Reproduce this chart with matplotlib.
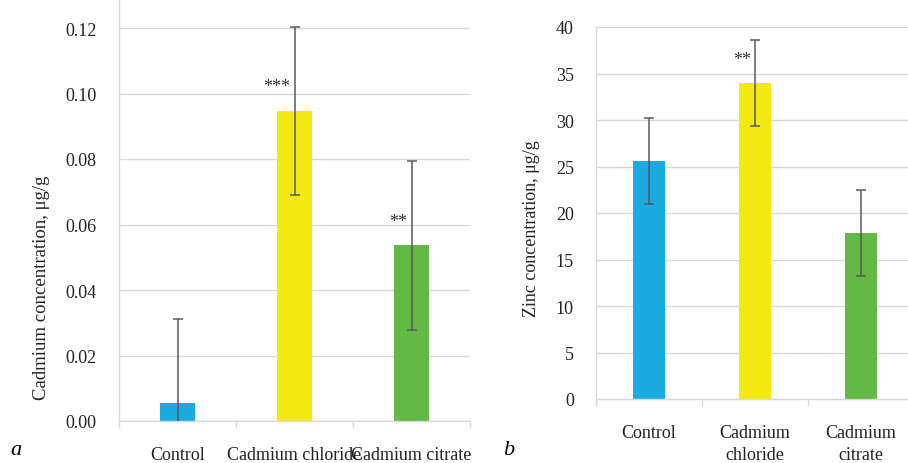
import numpy as np
import matplotlib
matplotlib.use("Agg")
import matplotlib.pyplot as plt

plt.rcParams['font.family'] = ['Liberation Serif', 'DejaVu Serif']

# podatki
groups_a = ["Control", "Cadmium chloride", "Cadmium citrate"]
cd_values = [0.0055, 0.0947, 0.0537]
cd_errors = [0.0256, 0.0256, 0.0258]
cd_marks = ["", "***", "**"]
cd_mark_y = [0, 0.102, 0.061]

groups_b = ["Control", "Cadmium\nchloride", "Cadmium\ncitrate"]
zn_values = [25.6, 34.0, 17.85]
zn_errors = [4.6, 4.6, 4.6]
zn_marks = ["", "**", ""]
zn_mark_y = [0, 36.5, 0]

colors = ["#1AABE0", "#F2E911", "#62B946"]
grid_col = "#D9D9D9"
err_col = "#595959"

W, H = 908, 464
fig = plt.figure(figsize=(W / 100, H / 100), dpi=100)


def px_axes(x0, x1, y_bottom, y_top):
    # pikselne koordinate -> deli slike
    return fig.add_axes([x0 / W, (H - y_bottom) / H, (x1 - x0) / W, (y_bottom - y_top) / H])


def draw_panel(ax, labels, values, errors, marks, mark_y, ymax, yticks, fmt):
    x = np.arange(len(values))
    ax.bar(x, values, width=0.3, color=colors, zorder=2)
    ax.errorbar(x, values, yerr=errors, fmt='none', ecolor=err_col,
                elinewidth=1.1, capsize=3.5, capthick=1.1, zorder=3)
    for xi, my, m in zip(x, mark_y, marks):
        if m:
            ax.annotate(m, (xi, my), xytext=(-3, 0), textcoords='offset points',
                        ha='right', va='center', fontsize=13, color='#333333')
    ax.set_xlim(-0.5, len(values) - 0.5)
    ax.set_ylim(0, ymax)
    ax.set_yticks(yticks)
    ax.set_yticklabels([fmt.format(t) for t in yticks])
    ax.yaxis.grid(True, color=grid_col, linewidth=1.0, zorder=0)
    ax.set_axisbelow(True)
    ax.set_xticks(x)
    ax.set_xticklabels(labels, linespacing=1.35)
    ax.set_xticks(np.arange(len(values) + 1) - 0.5, minor=True)
    ax.tick_params(axis='x', which='major', length=0, pad=18, labelsize=13, colors='#222222')
    ax.tick_params(axis='x', which='minor', length=5, color=grid_col, width=1.0)
    ax.tick_params(axis='y', length=0, pad=16, labelsize=13, colors='#222222')
    for s in ['top', 'right']:
        ax.spines[s].set_visible(False)
    for s in ['left', 'bottom']:
        ax.spines[s].set_color(grid_col)
        ax.spines[s].set_linewidth(1.0)


# panel a
ax1 = px_axes(119, 470, 422, 422 - 393 * 0.14 / 0.12)
draw_panel(ax1, groups_a, cd_values, cd_errors, cd_marks, cd_mark_y, 0.14,
           np.arange(0, 0.121, 0.02), "{:.2f}")
ax1.set_ylabel("Cadmium concentration, μg/g", fontsize=13.5, color='#222222')
ax1.yaxis.set_label_coords(-0.197, 0.293)

# panel b
ax2 = px_axes(596, 914, 400, 28)
draw_panel(ax2, groups_b, zn_values, zn_errors, zn_marks, zn_mark_y, 40,
           np.arange(0, 41, 5), "{:.0f}")
ax2.set_ylabel("Zinc concentration, μg/g", fontsize=13, color='#222222')
ax2.yaxis.set_label_coords(-0.176, 0.46)

fig.text(10 / W, 1 - 451 / H, "a", fontsize=16, style='italic', va='center', ha='left')
fig.text(503 / W, 1 - 451 / H, "b", fontsize=16, style='italic', va='center', ha='left')

fig.savefig("out.png", dpi=100)
